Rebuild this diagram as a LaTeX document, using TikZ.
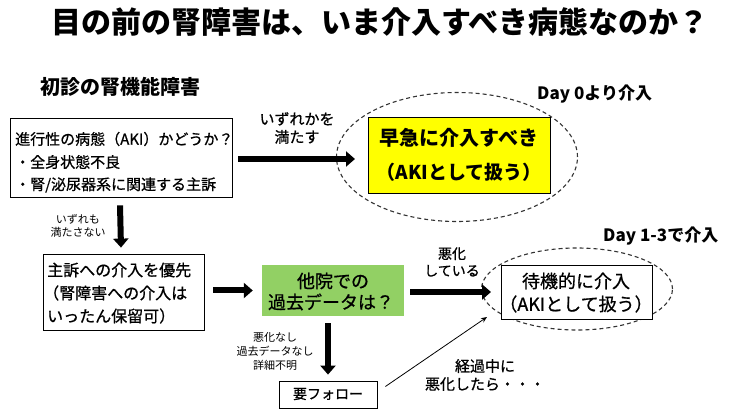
\documentclass[tikz,border=0pt]{standalone}
\usepackage{fontspec}
\setmainfont{Noto Sans CJK JP}
\newfontfamily\medfont[FakeBold=0.8]{Noto Sans CJK JP}
\usetikzlibrary{arrows.meta,shapes.geometric}
\definecolor{kgreen}{RGB}{146,208,100}
\definecolor{kyellow}{RGB}{255,255,0}
\tikzset{
  plainbox/.style={draw=black, line width=0.8pt, fill=white, inner sep=0pt},
  txt/.style={inner sep=0pt, align=center},
  bigarrow/.style={line width=6pt, -{Triangle[length=9pt,width=15pt]}},
  thinarrow/.style={line width=0.8pt, -{Stealth[length=6pt,width=5pt]}},
  dashell/.style={draw=black!80, dashed, dash pattern=on 4pt off 3pt, line width=1.1pt, ellipse, inner sep=0pt},
}
\begin{document}
\begin{tikzpicture}[x=1pt,y=-1pt]
\useasboundingbox (0,0) rectangle (745,414);
% title
\node[txt, font=\fontsize{30}{32}\selectfont\bfseries] (title) at (380,22) {目の前の腎障害は、いま介入すべき病態なのか？};
\node[txt, font=\fontsize{20}{22}\selectfont\bfseries, anchor=west] (head) at (40,87) {初診の腎機能障害};
% box 1
\node[plainbox, minimum width=222pt, minimum height=79pt] (box1) at (121,157.5) {};
\node[txt, anchor=west, font=\fontsize{15}{17}\selectfont\medfont] (b1a) at (15,139) {進行性の病態（AKI）かどうか？};
\node[txt, anchor=west, font=\fontsize{15}{17}\selectfont\medfont] (b1b) at (15,162) {・全身状態不良};
\node[txt, anchor=west, font=\fontsize{15}{17}\selectfont\medfont] (b1c) at (15,185) {・腎/泌尿器系に関連する主訴};
% ellipse 1 + yellow box
\node[dashell, minimum width=241pt, minimum height=129pt] (ell1) at (457,157) {};
\node[draw=black, line width=0.8pt, fill=kyellow, minimum width=182pt, minimum height=76pt, inner sep=0pt] (yel) at (459,155) {};
\node[txt, font=\fontsize{20}{22}\selectfont\bfseries] (y1) at (459,138) {早急に介入すべき};
\node[txt, font=\fontsize{19}{21}\selectfont\bfseries] (y2) at (459,172) {（AKIとして扱う）};
\node[txt, font=\fontsize{17}{19}\selectfont\bfseries, anchor=west] (day0) at (537,94) {Day 0より介入};
% arrow box1 -> ellipse1
\coordinate (e1in) at (355,159);
\draw[bigarrow] (box1.east |- e1in) ++(6,0) -- (e1in);
\node[txt, font=\fontsize{15}{18}\selectfont\medfont] (lab1) at (297,128) {いずれかを\\満たす};
% down arrow box1 -> box2
\node[plainbox, minimum width=161pt, minimum height=76pt] (box2) at (123.5,292) {};
\draw[bigarrow] ([xshift=-1pt,yshift=-8pt]box1.south) -- ([xshift=-2.5pt,yshift=6pt]box2.north);
\node[txt, font=\fontsize{11}{13}\selectfont] (lab2) at (78,226) {いずれも\\満たさない};
\node[txt, anchor=west, font=\fontsize{16}{18}\selectfont\medfont] (b2a) at (47,270) {主訴への介入を優先};
\node[txt, anchor=west, font=\fontsize{16}{18}\selectfont\medfont] (b2b) at (43,293) {（腎障害への介入は};
\node[txt, anchor=west, font=\fontsize{16}{18}\selectfont\medfont] (b2c) at (47,316) {いったん保留可）};
% green box
\node[fill=kgreen, minimum width=142pt, minimum height=51pt, inner sep=0pt] (green) at (333,290.5) {};
\node[txt, font=\fontsize{18}{20}\selectfont\medfont] (g1) at (333,281) {他院での};
\node[txt, font=\fontsize{18}{20}\selectfont\medfont] (g2) at (331,302) {過去データは？};
\draw[bigarrow] ([xshift=9pt]box2.east |- green) -- ([xshift=-9pt]green.west);
% ellipse 2 + box 3
\node[dashell, minimum width=191pt, minimum height=82pt] (ell2) at (577,289) {};
\node[plainbox, minimum width=151pt, minimum height=54pt] (box3) at (576.5,292) {};
\node[txt, font=\fontsize{18}{20}\selectfont\medfont] (w1) at (576,281) {待機的に介入};
\node[txt, font=\fontsize{18}{20}\selectfont\medfont] (w2) at (576,304) {（AKIとして扱う）};
\node[txt, font=\fontsize{17}{19}\selectfont\bfseries, anchor=west] (day13) at (603,236) {Day 1-3で介入};
\coordinate (e2in) at (491,292);
\draw[bigarrow] ([xshift=6pt]green.east |- e2in) -- (e2in);
\node[txt, font=\fontsize{14}{17}\selectfont\medfont] (lab3) at (452,262) {悪化\\している};
% follow-up
\node[plainbox, minimum width=98pt, minimum height=27pt] (follow) at (328,394.5) {};
\node[txt, font=\fontsize{14}{16}\selectfont\medfont] (f1) at (328,394) {要フォロー};
\draw[bigarrow] ([xshift=-5pt,yshift=-7pt]green.south) -- ([yshift=6pt]follow.north);
\node[txt, font=\fontsize{11}{14}\selectfont] (lab4) at (275,351) {悪化なし\\過去データなし\\詳細不明};
% thin arrow
\coordinate (e2low) at (487,317);
\draw[thinarrow] ([xshift=8pt,yshift=8pt]follow.east) -- (e2low);
\node[txt, font=\fontsize{15}{18}\selectfont\medfont] (lab5) at (485,375) {経過中に\\悪化したら・・・};
\end{tikzpicture}
\end{document}
